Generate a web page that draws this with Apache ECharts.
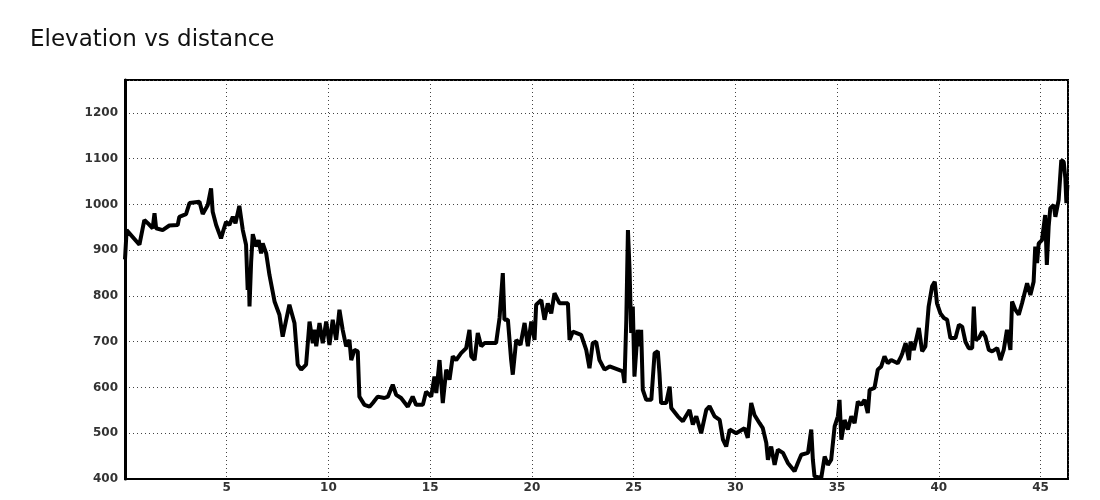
<!DOCTYPE html>
<html><head><meta charset="utf-8">
<script src="https://cdn.jsdelivr.net/npm/echarts@6/dist/echarts.min.js"></script>
<style>html,body{margin:0;padding:0;background:#fff}#c{width:1100px;height:500px}</style>
</head><body><div id="c"></div>
<script>
const titleText = 'Elevation vs distance';
const distanceKm = [
0.00,0.08,0.71,0.95,1.12,1.36,1.45,1.53,1.85,2.18,2.59,2.67,3.00,3.17,3.66,3.82,4.07,4.23,4.31,4.48,
4.72,4.84,4.97,5.13,5.30,5.43,5.62,5.79,5.95,6.03,6.08,6.12,6.20,6.28,6.45,6.57,6.69,6.77,6.94,7.10,
7.35,7.59,7.75,8.08,8.33,8.49,8.66,8.90,9.07,9.23,9.31,9.40,9.56,9.72,9.89,10.05,10.21,10.38,10.54,10.70,
10.87,11.03,11.12,11.28,11.44,11.52,11.77,12.02,12.18,12.42,12.75,12.92,13.16,13.33,13.57,13.90,14.14,14.31,14.64,14.80,
15.05,15.21,15.30,15.46,15.62,15.79,15.95,16.11,16.28,16.52,16.77,16.93,17.02,17.18,17.34,17.51,17.67,18.24,18.41,18.57,
18.65,18.82,18.98,19.06,19.23,19.44,19.64,19.80,19.97,20.13,20.21,20.46,20.62,20.78,20.95,21.11,21.36,21.77,21.85,22.01,
22.42,22.67,22.83,22.99,23.16,23.32,23.57,23.82,24.47,24.55,24.64,24.72,24.80,24.88,24.96,25.04,25.20,25.29,25.37,25.45,
25.62,25.87,26.03,26.19,26.27,26.35,26.60,26.77,26.85,27.17,27.42,27.75,27.91,28.08,28.32,28.57,28.73,28.98,29.23,29.39,
29.55,29.72,30.04,30.45,30.61,30.78,30.94,31.19,31.35,31.52,31.60,31.76,31.93,32.09,32.34,32.58,32.91,33.07,33.24,33.57,
33.73,33.81,33.89,34.22,34.39,34.55,34.71,34.88,35.04,35.12,35.21,35.37,35.53,35.70,35.86,36.02,36.19,36.35,36.51,36.60,
36.84,37.00,37.17,37.33,37.49,37.66,37.98,38.15,38.21,38.37,38.53,38.61,38.77,39.02,39.18,39.34,39.50,39.67,39.80,39.91,
40.08,40.25,40.41,40.57,40.82,40.99,41.15,41.31,41.47,41.64,41.72,41.80,41.97,42.13,42.29,42.46,42.62,42.87,43.03,43.19,
43.35,43.52,43.60,43.76,43.93,44.09,44.34,44.50,44.66,44.74,44.83,44.91,45.07,45.23,45.31,45.40,45.48,45.65,45.73,45.89,
46.02,46.14,46.22,46.27,46.32
];
const elevationM = [
880,944,912,966,959,948,981,948,944,954,955,973,979,1003,1006,979,999,1035,984,955,
926,944,962,955,973,959,997,944,912,813,860,777,875,935,908,922,893,915,893,846,
788,759,711,781,741,650,639,650,744,697,726,690,741,697,744,693,748,704,770,726,
690,704,660,682,679,580,562,558,566,580,577,580,606,584,577,558,580,562,562,591,
580,624,588,660,566,639,617,668,660,675,686,726,668,660,719,690,697,697,752,850,
748,748,660,628,704,693,741,690,744,704,781,791,748,784,762,806,784,784,704,722,
715,682,642,697,700,660,639,646,635,610,748,944,857,719,777,624,726,690,726,595,
573,573,675,679,631,566,566,602,555,537,526,551,519,537,500,551,559,537,529,486,
471,508,500,511,490,566,540,522,511,479,442,471,431,464,457,435,417,435,453,457,
508,442,406,402,449,431,442,515,537,573,486,529,508,537,522,569,562,573,544,595,
599,639,646,668,653,660,653,668,675,697,660,700,682,730,679,690,777,821,831,784,
762,752,748,708,708,737,733,700,686,686,777,704,708,722,711,682,679,686,660,682,
726,682,788,770,759,784,828,802,831,908,872,915,922,977,868,952,992,999,973,1010,
1097,1093,1057,1003,1043
];
const xTickStep = 5;
const yTickStep = 100;

const labelFont = {fontFamily:'DejaVu Sans', fontSize:12, fontWeight:'bold', color:'#333'};
const chart = echarts.init(document.getElementById('c'), null, {renderer:'canvas'});
chart.setOption({
  animation:false,
  backgroundColor:'#fff',
  title:{text:titleText, left:25, top:24, textStyle:{fontFamily:'DejaVu Sans', fontSize:23, fontWeight:'normal', color:'#111'}},
  grid:{left:125, right:32, top:80, bottom:21, show:true, borderColor:'#000', borderWidth:2},
  xAxis:{type:'value', min:0, max:46.35, interval:xTickStep,
    axisLine:{show:true, lineStyle:{color:'#000', width:2}},
    axisTick:{show:false},
    axisLabel:Object.assign({showMinLabel:false, showMaxLabel:false, margin:3}, labelFont),
    splitLine:{show:true, lineStyle:{type:[1,3], color:'#444', width:1}}},
  yAxis:{type:'value', min:400, max:1272, interval:yTickStep,
    axisLine:{show:true, lineStyle:{color:'#000', width:3}},
    axisTick:{show:false},
    axisLabel:Object.assign({showMaxLabel:false, margin:7,
      formatter:v => (v % 100 === 0 ? String(v) : '')}, labelFont),
    splitLine:{show:true, lineStyle:{type:[1,3], color:'#444', width:1}}},
  series:[{type:'line', data:distanceKm.map((d,i)=>[d, elevationM[i]]),
    showSymbol:false, symbol:'none', clip:true,
    lineStyle:{color:'#000', width:4}}]
});
</script></body></html>
